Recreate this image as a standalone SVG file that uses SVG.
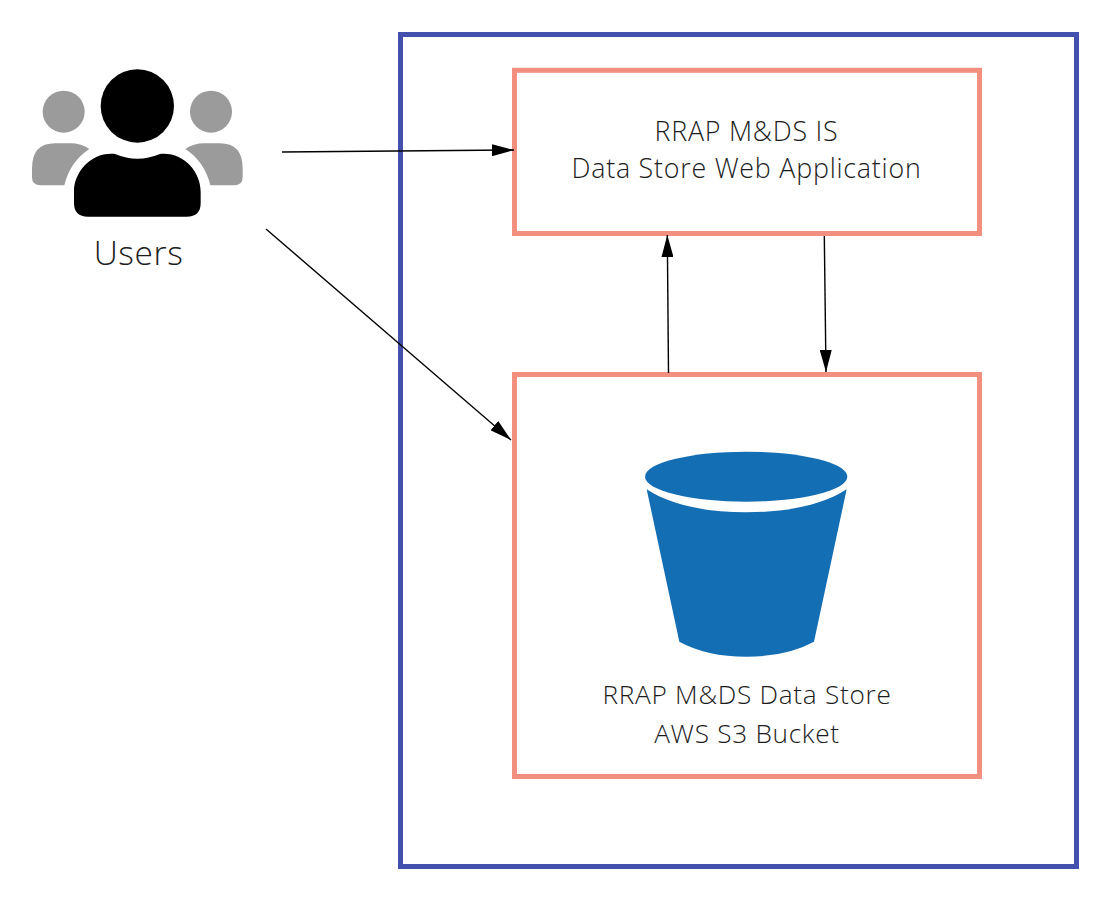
<svg xmlns="http://www.w3.org/2000/svg" width="1108" height="901" viewBox="0 0 1108 901">
<style>
.box{fill:none;stroke:#f28f7f;stroke-width:5}
.frame{fill:none;stroke:#4350ae;stroke-width:5}
.conn{fill:none;stroke:#000;stroke-width:1.4;marker-end:url(#arrow)}
.t{font-family:"Open Sans","Liberation Sans",sans-serif;font-weight:300;fill:#1c1c1c;text-anchor:middle;font-size:26.8px;letter-spacing:.78px}
.s{font-size:26.2px;letter-spacing:.72px}
.gray{fill:#9b9b9b}
.blue{fill:#146eb4}
</style>
<defs>
<marker id="arrow" markerUnits="userSpaceOnUse" markerWidth="22" markerHeight="12" refX="22" refY="6" orient="auto"><path d="M0 0L22 6L0 12Z" fill="#000"/></marker>
</defs>
<rect width="1108" height="901" fill="#fff"/>
<g id="frame"><rect class="frame" x="400.500" y="34.500" width="676" height="832"/></g>
<g id="users">
<g transform="translate(20 50) scale(.33333)">
<circle class="gray" cx="131" cy="185" r="63"/>
<circle class="gray" cx="573" cy="185" r="63"/>
<path class="gray" d="M36 355Q36 280 105 280H150Q185 280 208 297Q150 335 133 406H62Q36 406 36 382Z"/>
<path class="gray" d="M668 355Q668 280 599 280H554Q519 280 496 297Q554 335 571 406H642Q668 406 668 382Z"/>
<circle cx="352" cy="168" r="110"/>
<path d="M285 312Q352 340 420 312C490 305 542 365 542 425V460Q542 500 500 500H204Q162 500 162 460V425C162 365 215 305 285 312Z"/>
</g>
<text class="t" x="138.500" y="265" style="font-size:33.500px;letter-spacing:.6px">Users</text>
</g>
<g id="webapp">
<rect class="box" x="514.500" y="70.300" width="465" height="163.200"/>
<text class="t" x="746.500" y="141">RRAP M&amp;DS IS</text>
<text class="t" x="746.500" y="178">Data Store Web Application</text>
</g>
<g id="datastore">
<rect class="box" x="514.500" y="374.500" width="465" height="402"/>
<g transform="translate(620 440) scale(.33333)">
<ellipse class="blue" cx="378.500" cy="110" rx="303.500" ry="75"/>
<path class="blue" d="M80 148C150 195 260 217 378 217C500 217 610 195 680 148L582 605Q500 650 380 650Q260 650 178 605Z"/>
</g>
<text class="t s" x="747" y="704">RRAP M&amp;DS Data Store</text>
<text class="t s" x="747" y="743">AWS S3 Bucket</text>
</g>
<g id="connectors">
<path class="conn" d="M282 152L514 150"/>
<path class="conn" d="M266 229L511 440"/>
<path class="conn" d="M668.500 373L667.300 235"/>
<path class="conn" d="M824.300 236L826 372"/>
</g>
</svg>
